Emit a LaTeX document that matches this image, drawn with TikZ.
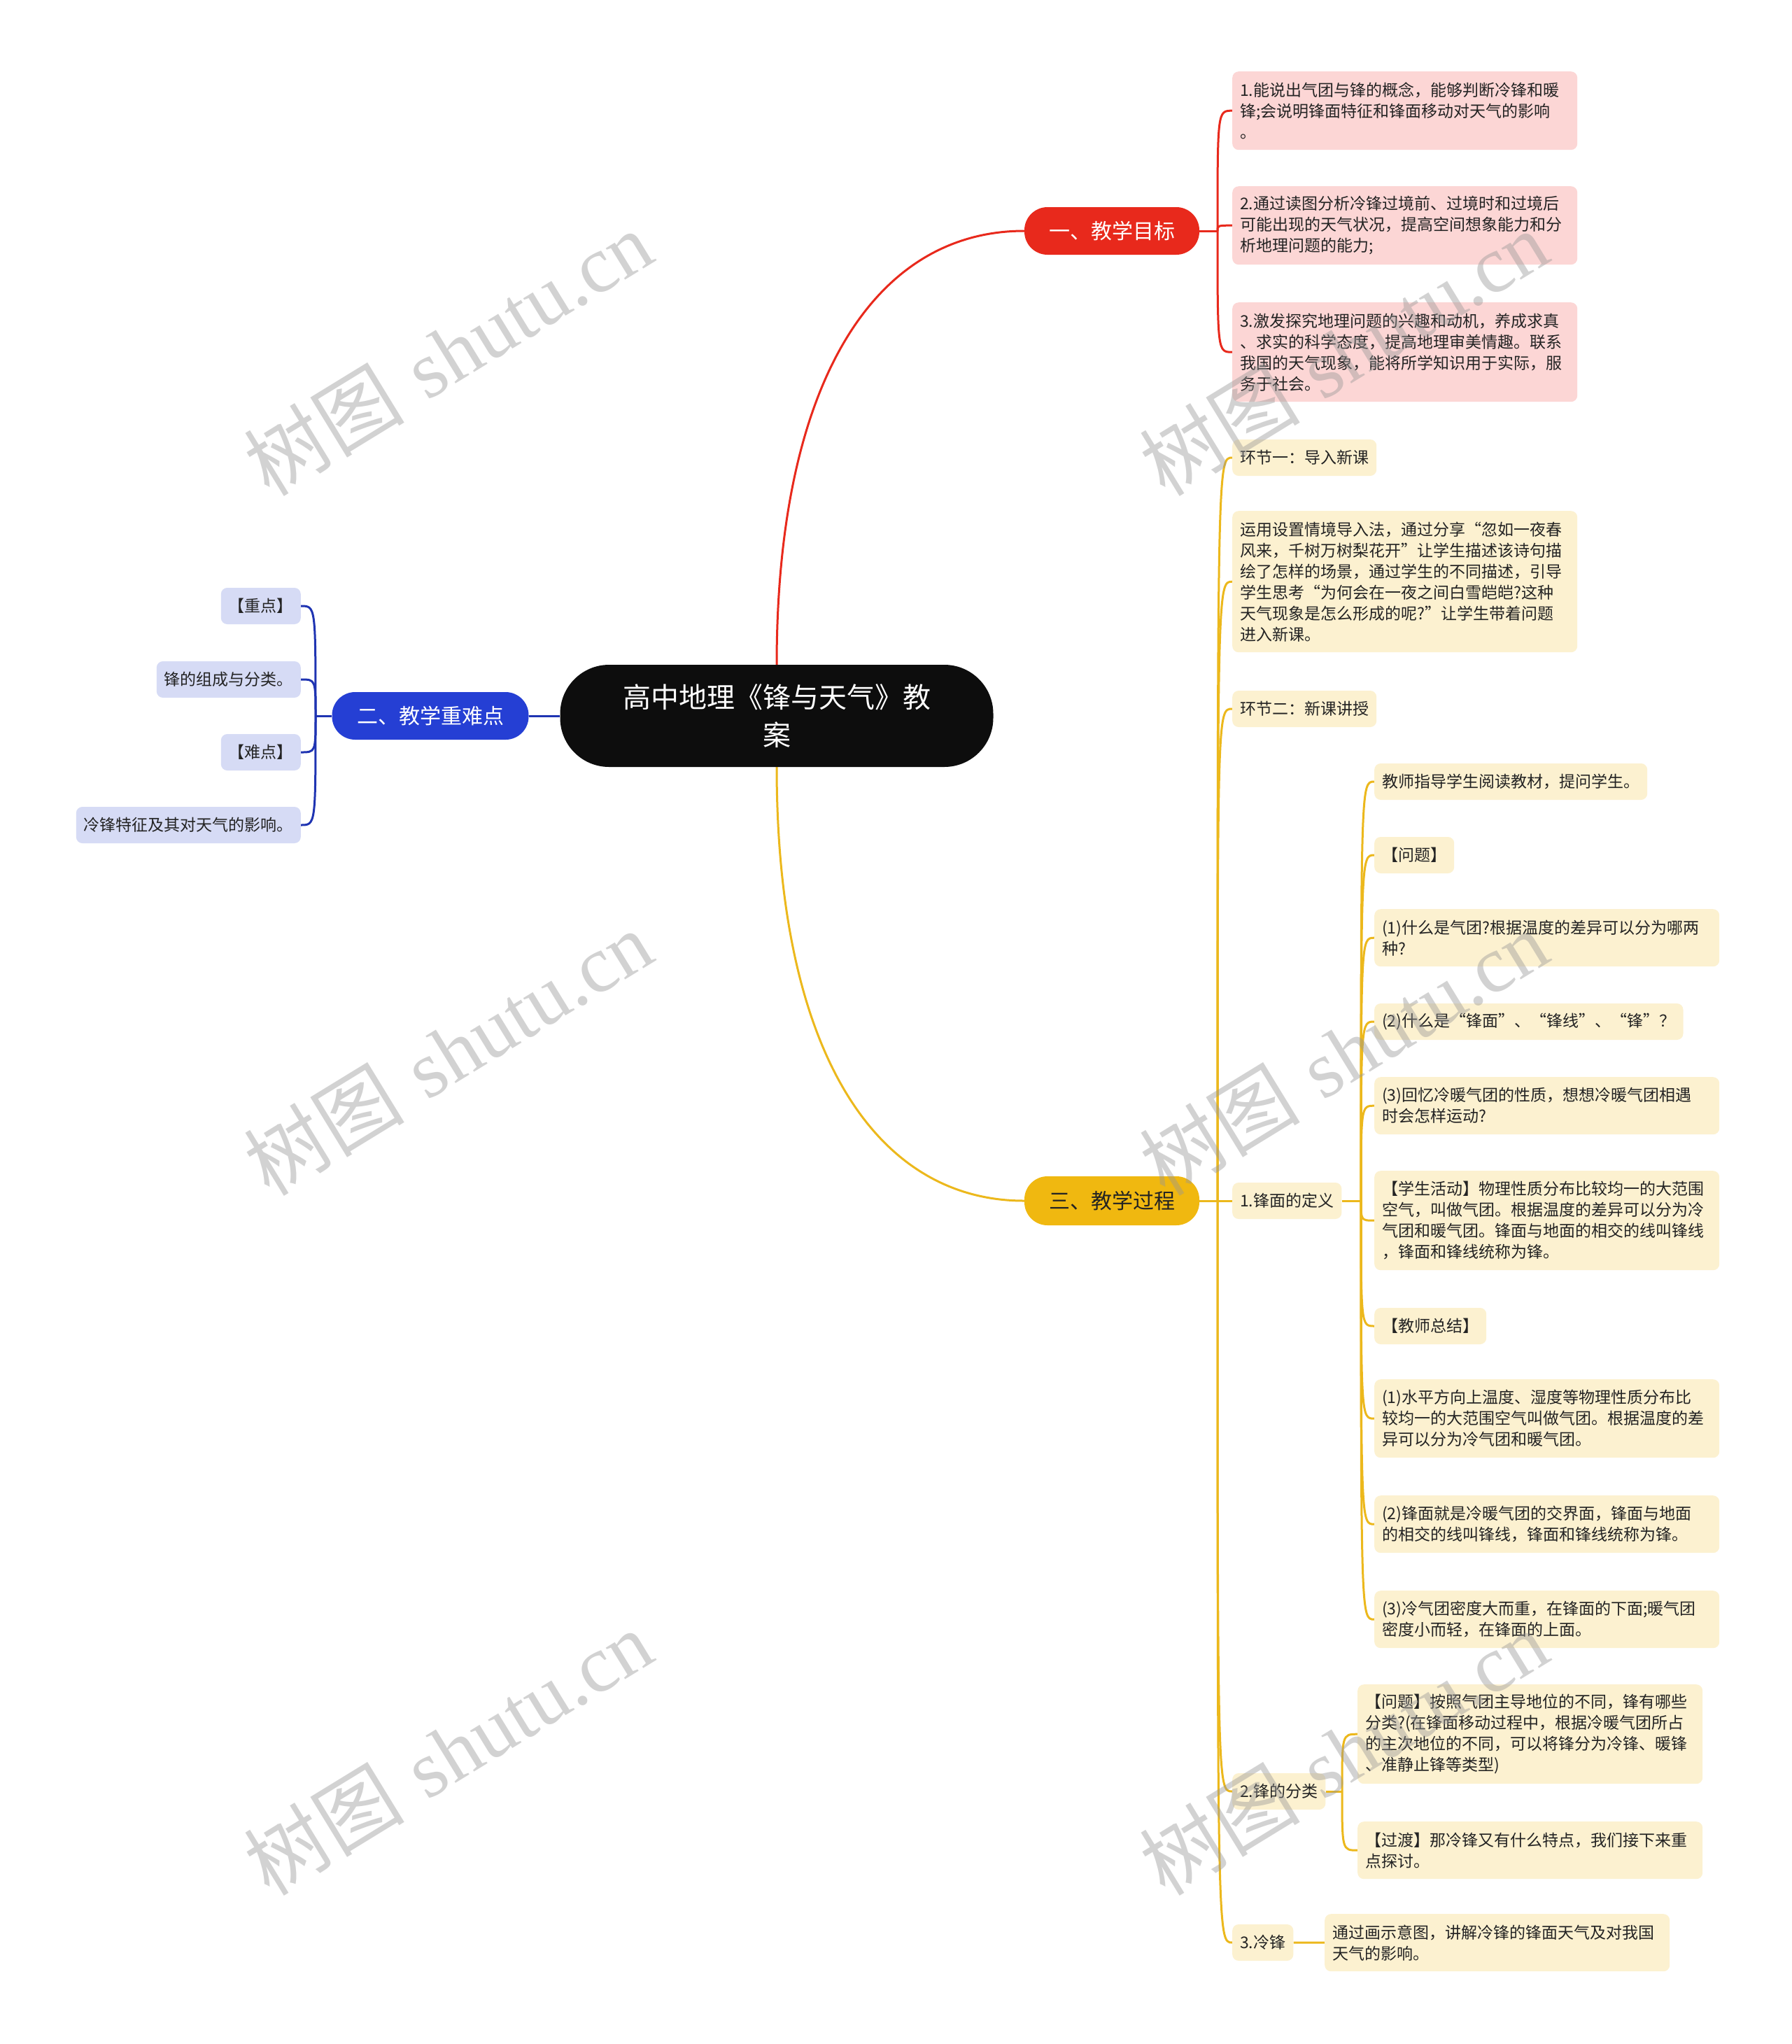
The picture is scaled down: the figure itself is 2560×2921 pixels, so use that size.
\documentclass[tikz,border=0pt]{standalone}
\usepackage{fontspec}
\newfontfamily\cjk{Noto Sans CJK SC}
\newfontfamily\wmlatin{Liberation Serif}
\definecolor{redc}{RGB}{232,41,28}
\definecolor{pinkf}{RGB}{252,214,213}
\definecolor{bluec}{RGB}{37,63,212}
\definecolor{blueline}{RGB}{31,52,178}
\definecolor{lavf}{RGB}{214,219,245}
\definecolor{goldc}{RGB}{240,184,16}
\definecolor{goldline}{RGB}{236,184,28}
\definecolor{creamf}{RGB}{252,241,208}
\definecolor{rootc}{RGB}{13,13,13}
\definecolor{txt}{RGB}{35,35,35}
\definecolor{wmc}{RGB}{150,150,150}
\pgfdeclarelayer{bg}
\pgfsetlayers{bg,main}
\begin{document}
\begin{tikzpicture}[x=1pt,y=-1pt,
  base/.style={font=\cjk\fontsize{23}{30}\selectfont, text=txt, inner xsep=11pt, inner ysep=11pt, rounded corners=9pt, align=left},
  nl/.style={minimum height={30*#1+22}},
  pinkbox/.style={base, fill=pinkf, anchor=north west, text width=471pt},
  creambox/.style={base, fill=creamf, anchor=north west, text width=471pt},
  creamone/.style={base, fill=creamf, anchor=west, minimum height=52pt},
  lavone/.style={base, fill=lavf, anchor=east, minimum height=52pt},
  mainnode/.style={font=\cjk\fontsize{30}{36}\selectfont, rounded corners=33pt, inner sep=0pt, minimum height=68pt},
  redline/.style={draw=redc, line width=3pt},
  blueln/.style={draw=blueline, line width=3pt},
  goldln/.style={draw=goldline, line width=3pt},
  wm/.style={rotate=31.5, text=wmc, text opacity=0.42, font=\fontsize{115}{115}\selectfont}
]
\useasboundingbox (0,0) rectangle (2560,2921);
\begin{pgfonlayer}{bg}
\fill[white] (0,0) rectangle (2560,2921);
\end{pgfonlayer}

% root and main branches
\node[fill=rootc, text=white, font=\cjk\fontsize{40}{54}\selectfont, align=center, rounded corners=70pt, minimum width=619pt, minimum height=146pt, inner sep=0pt] (root) at (1110,1023) {高中地理《锋与天气》教\\案};
\node[mainnode, fill=redc, text=white, minimum width=250pt] (one) at (1589,330) {一、教学目标};
\node[mainnode, fill=bluec, text=white, minimum width=281pt] (two) at (615,1023) {二、教学重难点};
\node[mainnode, fill=goldc, text=txt, minimum width=250pt, minimum height=70pt] (three) at (1589,1716) {三、教学过程};

% red children
\node[pinkbox, nl=3] (r1) at (1761,102) {1.能说出气团与锋的概念，能够判断冷锋和暖\\锋;会说明锋面特征和锋面移动对天气的影响\\。};
\node[pinkbox, nl=3] (r2) at (1761,266) {2.通过读图分析冷锋过境前、过境时和过境后\\可能出现的天气状况，提高空间想象能力和分\\析地理问题的能力;};
\node[pinkbox, nl=4] (r3) at (1761,432) {3.激发探究地理问题的兴趣和动机，养成求真\\、求实的科学态度，提高地理审美情趣。联系\\我国的天气现象，能将所学知识用于实际，服\\务于社会。};

% blue children
\node[lavone] (k1) at (430,866) {【重点】};
\node[lavone] (k2) at (430,971) {锋的组成与分类。};
\node[lavone] (k3) at (430,1075) {【难点】};
\node[lavone] (k4) at (430,1179) {冷锋特征及其对天气的影响。};

% gold level 2
\node[creamone] (y1) at (1761,654) {环节一：导入新课};
\node[creambox, nl=6] (y2) at (1761,730) {运用设置情境导入法，通过分享“忽如一夜春\\风来，千树万树梨花开”让学生描述该诗句描\\绘了怎样的场景，通过学生的不同描述，引导\\学生思考“为何会在一夜之间白雪皑皑?这种\\天气现象是怎么形成的呢?”让学生带着问题\\进入新课。};
\node[creamone] (y3) at (1761,1013) {环节二：新课讲授};
\node[creamone] (y4) at (1761,1716) {1.锋面的定义};
\node[creamone] (y5) at (1761,2560) {2.锋的分类};
\node[creamone] (y6) at (1761,2776) {3.冷锋};

% level 3 under 1.锋面的定义
\node[creamone] (a1) at (1964,1117) {教师指导学生阅读教材，提问学生。};
\node[creamone] (a2) at (1964,1222) {【问题】};
\node[creambox, nl=2] (a3) at (1964,1299) {(1)什么是气团?根据温度的差异可以分为哪两\\种?};
\node[creamone] (a4) at (1964,1460) {(2)什么是“锋面”、“锋线”、“锋”？};
\node[creambox, nl=2] (a5) at (1964,1539) {(3)回忆冷暖气团的性质，想想冷暖气团相遇\\时会怎样运动?};
\node[creambox, nl=4] (a6) at (1964,1673) {【学生活动】物理性质分布比较均一的大范围\\空气，叫做气团。根据温度的差异可以分为冷\\气团和暖气团。锋面与地面的相交的线叫锋线\\，锋面和锋线统称为锋。};
\node[creamone] (a7) at (1964,1895) {【教师总结】};
\node[creambox, nl=3] (a8) at (1964,1971) {(1)水平方向上温度、湿度等物理性质分布比\\较均一的大范围空气叫做气团。根据温度的差\\异可以分为冷气团和暖气团。};
\node[creambox, nl=2] (a9) at (1964,2137) {(2)锋面就是冷暖气团的交界面，锋面与地面\\的相交的线叫锋线，锋面和锋线统称为锋。};
\node[creambox, nl=2] (a10) at (1964,2273) {(3)冷气团密度大而重，在锋面的下面;暖气团\\密度小而轻，在锋面的上面。};

% level 3 under 2.锋的分类
\node[creambox, nl=4] (b1) at (1940,2407) {【问题】按照气团主导地位的不同，锋有哪些\\分类?(在锋面移动过程中，根据冷暖气团所占\\的主次地位的不同，可以将锋分为冷锋、暖锋\\、准静止锋等类型)};
\node[creambox, nl=2] (b2) at (1940,2603) {【过渡】那冷锋又有什么特点，我们接下来重\\点探讨。};

% level 3 under 3.冷锋
\node[creambox, nl=2] (c1) at (1893,2735) {通过画示意图，讲解冷锋的锋面天气及对我国\\天气的影响。};

% junctions
\coordinate (J1) at (1740,330);
\coordinate (J2) at (451,1023);
\coordinate (J3) at (1740,1716);
\coordinate (J4) at (1945,1716);
\coordinate (J5) at (1918,2560);

\begin{pgfonlayer}{bg}
% main connectors
\draw[redline] (root.north) .. controls +(0,-404) and +(-214,0) .. (one.west);
\draw[goldln] (root.south) .. controls +(0,404) and +(-214,0) .. (three.west);
\draw[blueln] (root.west) -- (two.east);
% red
\draw[redline] (one.east) -- (J1);
\foreach \c in {r1,r2,r3}
  \draw[redline] (J1) .. controls (J1 |- \c.west) .. (\c.west);
% blue
\draw[blueln] (two.west) -- (J2);
\foreach \c in {k1,k2,k3,k4}
  \draw[blueln] (J2) .. controls (J2 |- \c.east) .. (\c.east);
% gold
\draw[goldln] (three.east) -- (J3);
\foreach \c in {y1,y2,y3,y4,y5,y6}
  \draw[goldln] (J3) .. controls (J3 |- \c.west) .. (\c.west);
\draw[goldln] (y4.east) -- (J4);
\foreach \c in {a1,a2,a3,a4,a5,a6,a7,a8,a9,a10}
  \draw[goldln] (J4) .. controls (J4 |- \c.west) .. (\c.west);
\draw[goldln] (y5.east) -- (J5);
\foreach \c in {b1,b2}
  \draw[goldln] (J5) .. controls (J5 |- \c.west) .. (\c.west);
\draw[goldln] (y6.east) -- (c1.west);
\end{pgfonlayer}

% watermarks
\node[wm] (w1) at (640,504) {{\cjk 树图} {\wmlatin shutu.cn}};
\node[wm] (w2) at (1920,504) {{\cjk 树图} {\wmlatin shutu.cn}};
\node[wm] (w3) at (640,1504) {{\cjk 树图} {\wmlatin shutu.cn}};
\node[wm] (w4) at (1920,1504) {{\cjk 树图} {\wmlatin shutu.cn}};
\node[wm] (w5) at (640,2504) {{\cjk 树图} {\wmlatin shutu.cn}};
\node[wm] (w6) at (1920,2504) {{\cjk 树图} {\wmlatin shutu.cn}};
\end{tikzpicture}
\end{document}
